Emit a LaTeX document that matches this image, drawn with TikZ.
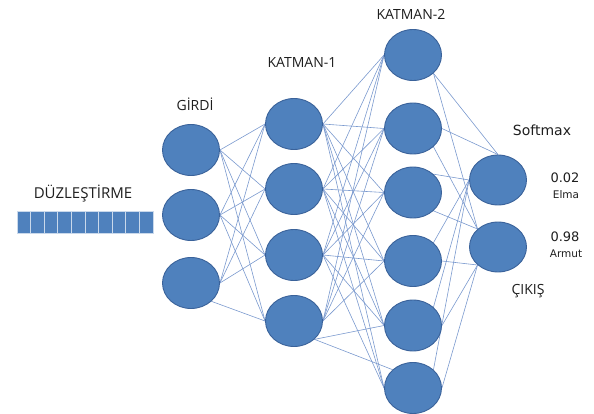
\documentclass[tikz,border=0pt]{standalone}
\usepackage{fontspec}
\setmainfont{Open Sans}
\newfontfamily\dvs{DejaVu Sans}
\usetikzlibrary{shapes.geometric,backgrounds}
\definecolor{nfill}{HTML}{4F81BD}
\definecolor{nedge}{HTML}{3A629A}
\definecolor{linkc}{HTML}{7A99CE}
\definecolor{txt}{HTML}{1E1E1E}
\begin{document}
\begin{tikzpicture}[x=1pt,y=-1pt,
  neuron/.style={ellipse,draw=nedge,fill=nfill,line width=0.9pt,minimum width=57pt,minimum height=51pt,inner sep=0pt},
  outn/.style={neuron,minimum height=50pt},
  cell/.style={rectangle,fill=nfill,draw=white!70!nfill,line width=0.8pt,minimum width=13.6pt,minimum height=22pt,inner sep=0pt},
  link/.style={draw=linkc,line width=0.6pt},
  head/.style={font=\fontsize{14}{16}\selectfont,text=txt,inner sep=0pt},
  val/.style={font=\dvs\fontsize{13}{15}\selectfont,text=txt,inner sep=0pt},
  small/.style={font=\dvs\fontsize{10.5}{12}\selectfont,text=txt,inner sep=0pt}]
\useasboundingbox (0,0) rectangle (594,414);
% flatten bar
\foreach \k in {0,...,9} \node[cell] (c\k) at ({23.8+13.6*\k},222) {};
% input layer
\node[neuron] (i1) at (191,150) {};
\node[neuron] (i2) at (191,215) {};
\node[neuron] (i3) at (191,283) {};
% hidden layer 1
\node[neuron] (h1) at (294,124) {};
\node[neuron] (h2) at (294,189) {};
\node[neuron] (h3) at (294,255) {};
\node[neuron] (h4) at (294,321) {};
% hidden layer 2
\node[neuron] (g1) at (413,55) {};
\node[neuron] (g2) at (413,128.5) {};
\node[neuron] (g3) at (413,192.5) {};
\node[neuron] (g4) at (413,261) {};
\node[neuron] (g5) at (413,325.5) {};
\node[neuron] (g6) at (413,388) {};
% output
\node[outn] (o1) at (498,180) {};
\node[outn] (o2) at (498,247) {};
% labels
\node[head,font=\fontsize{15}{17}\selectfont] (tflat) at (83,194) {DÜZLEŞTİRME};
\node[head] (tin) at (195,104) {GİRDİ};
\node[head] (tk1) at (302,62) {KATMAN-1};
\node[head] (tk2) at (411,14) {KATMAN-2};
\node[val,font=\dvs\fontsize{14}{16}\selectfont] (tsm) at (542,130) {Softmax};
\node[val] (v1) at (565,178) {0.02};
\node[small] (l1) at (566,195) {Elma};
\node[val] (v2) at (565,237) {0.98};
\node[small] (l2) at (566,254) {Armut};
\node[head] (tout) at (528,291) {ÇIKIŞ};
% connections
\begin{pgfonlayer}{background}
\foreach \a/\b in {i1.east/h1.west,i1.east/h2.west,i1.east/h3.west,i1.east/h4.west,
  i2.east/h1.west,i2.east/h2.west,i2.east/h3.west,i2.east/h4.west,
  i3.east/h1.west,i3.east/h2.west,i3.east/h3.west,i3.south east/h4.west}
  \draw[link] (\a) -- (\b);
\foreach \s in {1,2,3}
  \foreach \t in {1,...,6}
    \draw[link] (h\s.east) -- (g\t.west);
\foreach \t in {1,...,4} \draw[link] (h4.east) -- (g\t.west);
\draw[link] (h4.south east) -- (g5.west);
\draw[link] (h4.south east) -- (g6.north west);
\foreach \a/\b in {g1.south east/o1.north,g1.south east/o2.north west,
  g2.east/o1.north,g2.south east/o2.north west,
  g3.north east/o1.west,g3.south east/o2.north west,
  g4.north east/o1.west,g4.east/o2.south west,
  g5.north east/o1.west,g5.east/o2.south west,
  g6.north east/o1.west,g6.east/o2.south west}
  \draw[link] (\a) -- (\b);
\end{pgfonlayer}
\end{tikzpicture}
\end{document}
